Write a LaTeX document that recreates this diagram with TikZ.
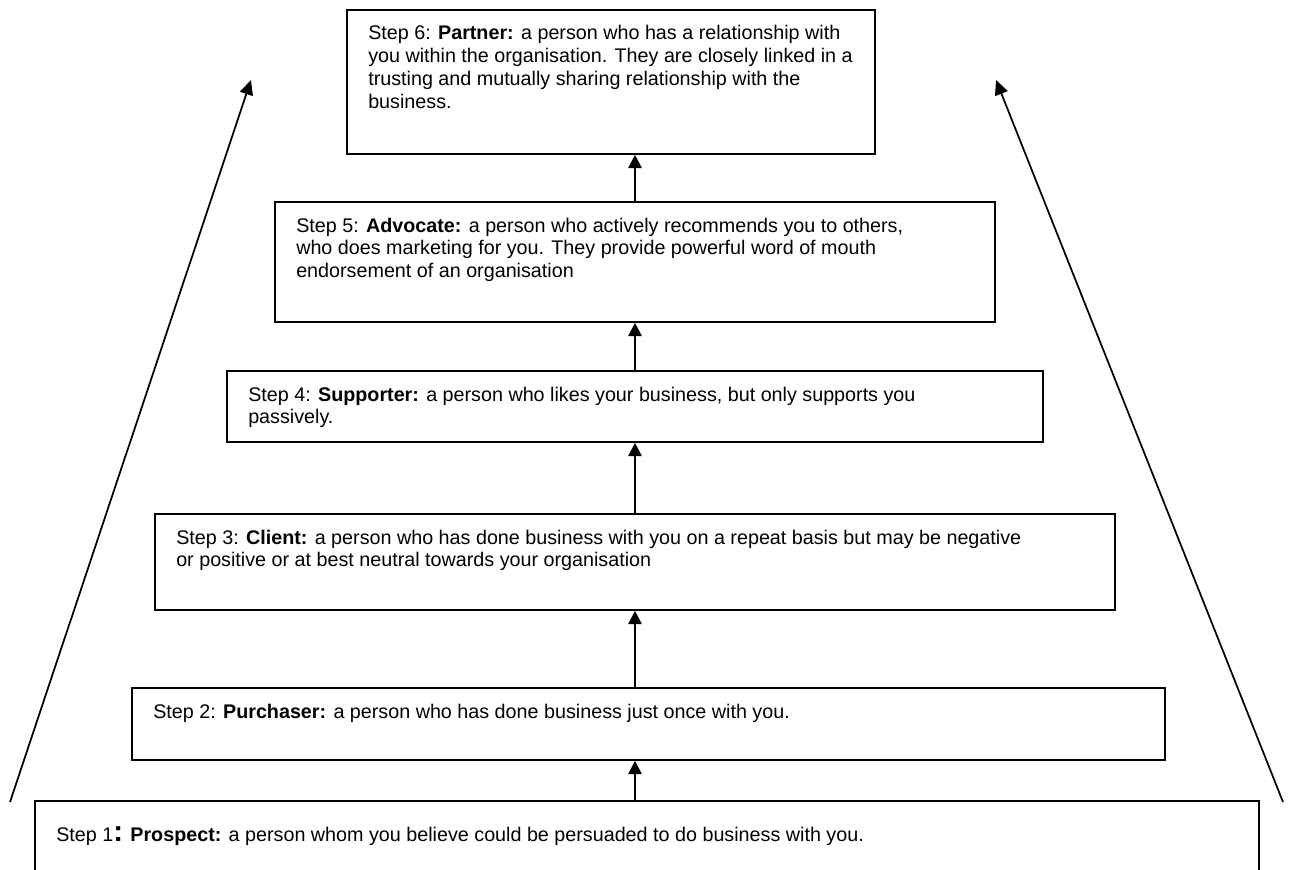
\documentclass[tikz,border=0pt]{standalone}
\usepackage{fontspec}
\setmainfont{Liberation Sans}
\usetikzlibrary{arrows.meta,fit}
\begin{document}
\begin{tikzpicture}[x=0.75pt,y=-0.75pt,
  box/.style={draw, line width=1.2pt, inner sep=0pt},
  txt/.style={anchor=base west, inner sep=0pt, font=\fontsize{14.8}{17}\selectfont},
  up/.style={-{Triangle[width=10pt,length=10pt]}, line width=1.5pt},
  side/.style={-{Triangle[width=10pt,length=11pt]}, line width=1.3pt}]
\useasboundingbox (0,0) rectangle (1291,870);
\fill[white] (0,0) rectangle (1291,870);

% boxes
\node[box, fit={(347,10)(875,154)}] (b6) {};
\node[box, fit={(275,202)(995,322)}] (b5) {};
\node[box, fit={(227,371)(1043,442)}] (b4) {};
\node[box, fit={(155,514)(1115,610)}] (b3) {};
\node[box, fit={(132,688)(1165,760)}] (b2) {};
\node[box, fit={(35,801)(1259,900)}] (b1) {};

% texts
\node[txt] (t6a) at (368,40) {Step 6: \textbf{Partner:} a person who has a relationship with};
\node[txt] (t6b) at (368,62.7) {you within the organisation. They are closely linked in a};
\node[txt] (t6c) at (368,85.4) {trusting and mutually sharing relationship with the};
\node[txt] (t6d) at (368,108.1) {business.};

\node[txt] (t5a) at (296,232) {Step 5: \textbf{Advocate:} a person who actively recommends you to others,};
\node[txt] (t5b) at (296,254.7) {who does marketing for you. They provide powerful word of mouth};
\node[txt] (t5c) at (296,277.4) {endorsement of an organisation};

\node[txt] (t4a) at (248,401) {Step 4: \textbf{Supporter:} a person who likes your business, but only supports you};
\node[txt] (t4b) at (248,423.7) {passively.};

\node[txt] (t3a) at (176,544) {Step 3: \textbf{Client:} a person who has done business with you on a repeat basis but may be negative};
\node[txt] (t3b) at (176,566.7) {or positive or at best neutral towards your organisation};

\node[txt] (t2a) at (153,718) {Step 2: \textbf{Purchaser:} a person who has done business just once with you.};

\node[txt] (t1a) at (56,841) {Step 1{\fontsize{22}{22}\selectfont\bfseries :} \textbf{Prospect:} a person whom you believe could be persuaded to do business with you.};

% central arrows
\coordinate (axis) at (635,0);
\draw[up] (b5.north -| axis) -- (b6.south -| axis);
\draw[up] (b4.north -| axis) -- (b5.south -| axis);
\draw[up] (b3.north -| axis) -- (b4.south -| axis);
\draw[up] (b2.north -| axis) -- (b3.south -| axis);
\draw[up] (b1.north -| axis) -- (b2.south -| axis);

% side arrows
\coordinate (lb) at (10,802);
\coordinate (lt) at (251,80);
\coordinate (rb) at (1283,802);
\coordinate (rt) at (996,80);
\draw[side] (lb) -- (lt);
\draw[side] (rb) -- (rt);
\end{tikzpicture}
\end{document}
